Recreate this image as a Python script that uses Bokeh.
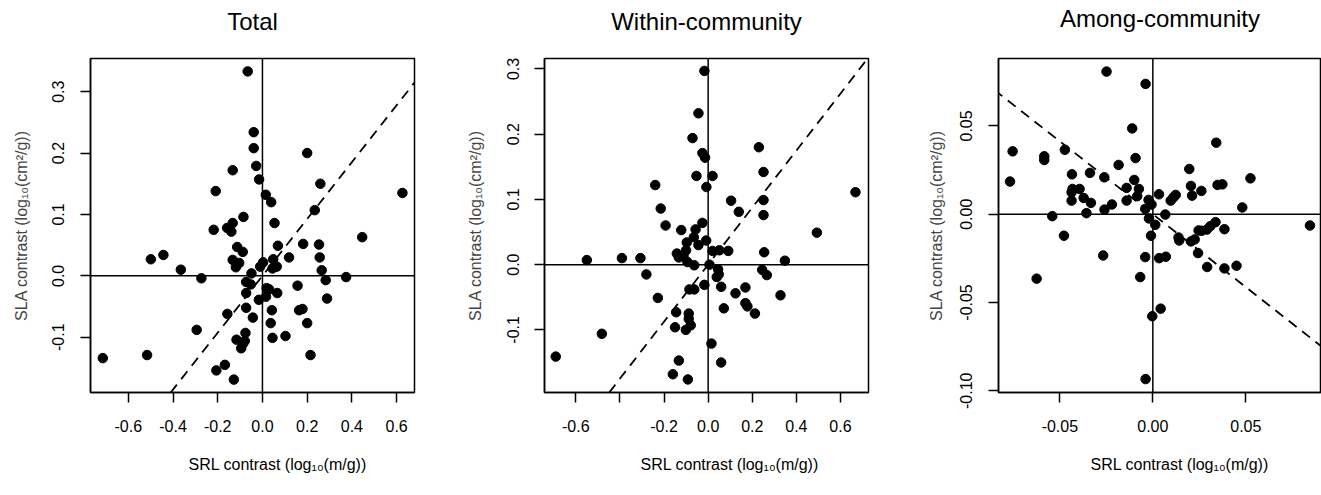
from bokeh.plotting import figure
from bokeh.models import Range1d, FixedTicker, Span, Slope, Title, LinearAxis
from bokeh.layouts import row
from bokeh.embed import file_html
from bokeh.resources import INLINE

FONT = "Liberation Sans"

# ---------------- data ----------------
total_x = [-0.066, -0.039, -0.039, -0.028, -0.015, 0.200, -0.133, -0.209, 0.259, 0.626,
           0.015, 0.039, 0.234, 0.054, -0.085, -0.133, -0.218, -0.158, -0.139, 0.446,
           0.182, 0.253, 0.069, -0.113, -0.088, -0.443, -0.499, 0.119, 0.256, -0.133,
           0.048, -0.104, 0.003, -0.119, 0.064, 0.045, -0.010, -0.365, -0.049, 0.265,
           0.374, -0.273, 0.283, -0.073, -0.052, 0.019, 0.030, 0.157, -0.073, 0.066,
           0.016, -0.016, 0.289, -0.073, 0.042, 0.164, 0.179, -0.157, -0.043, 0.037,
           0.200, -0.294, -0.076, 0.103, 0.045, -0.116, -0.079, -0.086, -0.095, -0.714,
           -0.516, 0.215, -0.168, -0.206, -0.128]
total_y = [0.333, 0.234, 0.208, 0.179, 0.157, 0.200, 0.172, 0.138, 0.150, 0.135,
           0.132, 0.120, 0.107, 0.086, 0.096, 0.086, 0.075, 0.078, 0.072, 0.063,
           0.052, 0.051, 0.049, 0.047, 0.039, 0.034, 0.027, 0.030, 0.030, 0.026,
           0.027, 0.021, 0.022, 0.014, 0.015, 0.012, 0.015, 0.010, 0.004, 0.009,
           -0.002, -0.004, -0.007, -0.010, -0.014, -0.020, -0.022, -0.016, -0.028, -0.028,
           -0.034, -0.039, -0.037, -0.052, -0.056, -0.056, -0.054, -0.062, -0.068, -0.077,
           -0.077, -0.088, -0.093, -0.098, -0.101, -0.104, -0.106, -0.110, -0.118, -0.134,
           -0.129, -0.129, -0.145, -0.154, -0.169]
total_slope = 0.463

within_x = [-0.017, -0.044, -0.071, -0.026, -0.014, 0.230, -0.053, 0.020, 0.251, 0.668,
            -0.240, -0.008, 0.104, 0.251, -0.215, 0.139, 0.251, -0.193, -0.026, -0.122,
            -0.057, 0.493, -0.065, -0.009, -0.097, -0.044, -0.100, 0.020, 0.051, 0.091,
            0.254, -0.142, -0.133, -0.112, -0.391, -0.307, -0.550, 0.348, -0.094, -0.063,
            0.006, -0.280, 0.045, 0.245, 0.266, 0.048, 0.039, -0.017, 0.059, 0.169,
            -0.063, -0.085, 0.124, 0.328, -0.228, 0.169, 0.178, 0.212, 0.071, -0.145,
            -0.088, -0.088, -0.079, -0.150, -0.101, -0.482, 0.015, -0.691, -0.133, 0.059,
            -0.160, -0.092]
within_y = [0.297, 0.232, 0.194, 0.171, 0.164, 0.180, 0.136, 0.136, 0.142, 0.111,
            0.122, 0.119, 0.098, 0.099, 0.086, 0.081, 0.076, 0.060, 0.064, 0.053,
            0.054, 0.049, 0.042, 0.037, 0.034, 0.030, 0.022, 0.021, 0.022, 0.021,
            0.019, 0.017, 0.011, 0.013, 0.010, 0.010, 0.007, 0.006, 0.004, -0.001,
            0.000, -0.015, -0.007, -0.008, -0.016, -0.015, -0.019, -0.031, -0.034, -0.035,
            -0.038, -0.038, -0.044, -0.047, -0.051, -0.059, -0.064, -0.075, -0.067, -0.073,
            -0.075, -0.083, -0.093, -0.096, -0.100, -0.106, -0.121, -0.141, -0.147, -0.150,
            -0.168, -0.176]
within_slope = 0.437

among_x = [-0.0249, -0.0039, -0.0111, 0.0341, -0.0754, -0.0473, -0.0584, -0.0584, -0.0093, -0.0184,
           0.0196, -0.0768, -0.0435, -0.0338, -0.0261, -0.0100, 0.0525, 0.0205, 0.0348, 0.0374,
           -0.0394, -0.0432, -0.0141, -0.0437, -0.0075, 0.0261, 0.0033, 0.0123, 0.0110, 0.0211,
           -0.0084, -0.0372, 0.0096, -0.0023, -0.0437, -0.0141, -0.0333, -0.0220, -0.0007, -0.0041,
           -0.0260, 0.0481, -0.0357, 0.0067, -0.0541, -0.0021, 0.0013, 0.0845, 0.0337, 0.0309,
           0.0291, 0.0246, 0.0385, 0.0262, -0.0010, -0.0478, 0.0138, 0.0142, 0.0225, 0.0205,
           0.0243, -0.0267, -0.0041, 0.0034, 0.0070, 0.0292, 0.0385, 0.0450, -0.0068, -0.0625,
           0.0042, -0.0003, -0.0039]
among_y = [0.0808, 0.0738, 0.0486, 0.0405, 0.0356, 0.0365, 0.0328, 0.0307, 0.0318, 0.0279,
           0.0256, 0.0185, 0.0226, 0.0234, 0.0209, 0.0194, 0.0203, 0.0160, 0.0166, 0.0169,
           0.0143, 0.0143, 0.0149, 0.0124, 0.0143, 0.0132, 0.0113, 0.0109, 0.0094, 0.0105,
           0.0102, 0.0092, 0.0077, 0.0081, 0.0077, 0.0077, 0.0064, 0.0055, 0.0055, 0.0030,
           0.0026, 0.0038, 0.0006, -0.0002, -0.0011, -0.0024, -0.0060, -0.0064, -0.0045, -0.0068,
           -0.0087, -0.0092, -0.0085, -0.0094, -0.0122, -0.0122, -0.0132, -0.0149, -0.0143, -0.0154,
           -0.0220, -0.0234, -0.0243, -0.0249, -0.0241, -0.0299, -0.0307, -0.0292, -0.0356, -0.0365,
           -0.0535, -0.0578, -0.0934]
among_slope = -0.826

titles = ["Total", "Within-community", "Among-community"]
x_label = "SRL contrast (log\u2081\u2080(m/g))"
y_label = "SLA contrast (log\u2081\u2080(cm\u00b2/g))"

xticks_1 = [-0.6, -0.4, -0.2, 0.0, 0.2, 0.4, 0.6]
xlabels_1 = ["-0.6", "-0.4", "-0.2", "0.0", "0.2", "0.4", "0.6"]
xlabels_2 = ["-0.6", "", "-0.2", "0.0", "0.2", "0.4", "0.6"]
yticks_12 = [-0.1, 0.0, 0.1, 0.2, 0.3]
ylabels_12 = ["-0.1", "0.0", "0.1", "0.2", "0.3"]
xticks_3 = [-0.05, 0.0, 0.05]
xlabels_3 = ["-0.05", "0.00", "0.05"]
yticks_3 = [-0.10, -0.05, 0.0, 0.05]
ylabels_3 = ["-0.10", "-0.05", "0.00", "0.05"]


def panel(title, xs, ys, slope, xr, yr, xt, xl, yt, yl, width, left_border, right_border,
          ylab_standoff, xlab_offset, title_standoff):
    p = figure(width=width, height=495, output_backend="svg", toolbar_location=None,
               x_range=Range1d(*xr), y_range=Range1d(*yr),
               min_border_left=left_border, min_border_right=right_border,
               min_border_top=58, min_border_bottom=103,
               background_fill_color="white", border_fill_color="white")
    p.title = None
    p.grid.visible = False
    p.outline_line_color = "black"
    p.outline_line_width = 1.5
    p.outline_line_alpha = 1.0

    bottom_ax = p.below[0]
    left_ax = p.left[0]
    for ax, ticks, labels in ((bottom_ax, xt, xl), (left_ax, yt, yl)):
        ax.ticker = FixedTicker(ticks=ticks)
        ax.major_label_overrides = {t: s for t, s in zip(ticks, labels)}
        ax.minor_tick_line_color = None
        ax.major_tick_in = 0
        ax.major_tick_out = 10
        ax.major_tick_line_width = 1.5
        ax.axis_line_width = 1.5
        ax.major_label_text_font = FONT
        ax.major_label_text_font_size = "16px"
        ax.major_label_text_color = "black"
    bottom_ax.major_label_standoff = 17
    left_ax.major_label_standoff = 16
    left_ax.major_label_orientation = "vertical"
    left_ax.axis_label = y_label
    left_ax.axis_label_text_font = FONT
    left_ax.axis_label_text_font_size = "16px"
    left_ax.axis_label_text_font_style = "normal"
    left_ax.axis_label_standoff = ylab_standoff

    xt_title = Title(text=x_label, align="left", offset=xlab_offset, text_font=FONT,
                     text_font_size="16px", text_font_style="normal", text_color="black",
                     standoff=39)
    p.add_layout(xt_title, "below")

    # main title: label of a tick-less, label-less axis above the frame
    top_ax = LinearAxis(ticker=FixedTicker(ticks=[]), axis_label=title,
                        axis_label_standoff=title_standoff, axis_label_text_font=FONT,
                        axis_label_text_font_size="24px", axis_label_text_font_style="normal",
                        axis_label_text_color="black", major_tick_out=0, major_tick_in=0,
                        minor_tick_out=0, minor_tick_in=0, major_label_standoff=0,
                        major_label_text_font_size="0px", axis_line_color=None,
                        major_tick_line_color=None, minor_tick_line_color=None)
    p.add_layout(top_ax, "above")

    p.add_layout(Span(location=0, dimension="width", line_color="black", line_width=1.5))
    p.add_layout(Span(location=0, dimension="height", line_color="black", line_width=1.5))
    p.add_layout(Slope(gradient=slope, y_intercept=0, line_color="black", line_width=1.8,
                       line_dash="10 7"))
    p.scatter(xs, ys, size=9.5, color="black")
    return p


p1 = panel(titles[0], total_x, total_y, total_slope, (-0.769, 0.680), (-0.190, 0.354),
           xticks_1, xlabels_1, yticks_12, ylabels_12, 462, 90, 48, 20, 98, 24)
p2 = panel(titles[1], within_x, within_y, within_slope, (-0.742, 0.727), (-0.196, 0.316),
           xticks_1, xlabels_2, yticks_12, ylabels_12, 454, 82, 48, 20, 96, 24)
p3 = panel(titles[2], among_x, among_y, among_slope, (-0.083, 0.0907), (-0.101, 0.0882),
           xticks_3, xlabels_3, yticks_3, ylabels_3, 405, 82, 0, 13, 92, 27)

layout = row(p1, p2, p3)
open("out.html", "w").write(file_html(layout, INLINE))
